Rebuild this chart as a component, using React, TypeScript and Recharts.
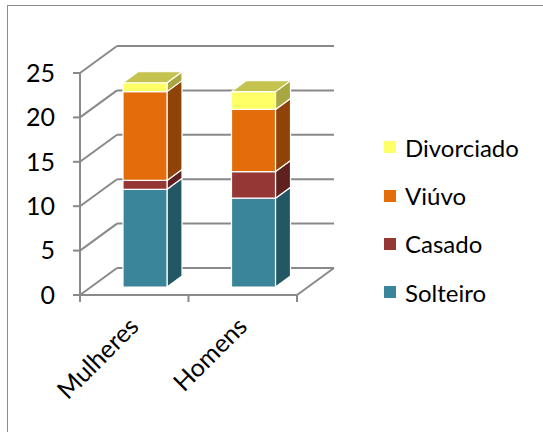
import React from "react";
import { BarChart, Bar, XAxis, YAxis, CartesianGrid, Legend } from "recharts";

// marital status counts per sex
const categories = ["Mulheres", "Homens"];
const solteiro = [11, 10];
const casado = [1, 3];
const viuvo = [10, 7];
const divorciado = [1, 2];
const yTicks = [0, 5, 10, 15, 20, 25];

const series = [
  { key: "Solteiro", values: solteiro, front: "#3A8599", side: "#245764" },
  { key: "Casado", values: casado, front: "#953735", side: "#5E2120" },
  { key: "Viúvo", values: viuvo, front: "#E46C0A", side: "#8F4306" },
  { key: "Divorciado", values: divorciado, front: "#FFFF66", side: "#A9A741", top: "#C5C34F" },
];

const data = categories.map((name, i) => {
  const row: Record<string, string | number> = { name };
  series.forEach((s) => (row[s.key] = s.values[i]));
  return row;
});

const W = 543;
const H = 432;
const X_AXIS_H = 137;
const PLOT_BOTTOM = H - X_AXIS_H;
const GRID = "#898989";
const FONT = "Lato, 'Noto Sans', sans-serif";

// fake 3d: back wall offset, bar placement inside the depth and bar depth
const WALL_DX = 37;
const WALL_DY = -27;
const BAR_DX = 11;
const BAR_DY = -8;
const SIDE_DX = 15;
const SIDE_DY = -11;

const renderGridLine = (props: any) => {
  const { x1, x2, y1, index } = props;
  const bx1 = x1 + WALL_DX;
  const bx2 = x2 + WALL_DX;
  const by = y1 + WALL_DY;
  const isFloor = Math.abs(y1 - PLOT_BOTTOM) < 1;
  const n = categories.length;
  return (
    <g key={`wall-${index}`} stroke={GRID} strokeWidth={2} fill="none">
      <line x1={x1} y1={y1} x2={bx1} y2={by} />
      <line x1={bx1} y1={by} x2={bx2} y2={by} />
      {isFloor && <line x1={x2} y1={y1} x2={bx2} y2={by} />}
      {isFloor &&
        Array.from({ length: n + 1 }, (_, i) => {
          const tx = x1 + ((x2 - x1) * i) / n;
          return <line key={i} x1={tx} y1={y1} x2={tx} y2={y1 + 7} />;
        })}
    </g>
  );
};

const make3DShape = (s: (typeof series)[number]) => (props: any) => {
  const { x, y, width, height } = props;
  if (!height || height <= 0) return <g />;
  const fx = x + BAR_DX;
  const fy = y + BAR_DY;
  const side = `${fx + width},${fy} ${fx + width + SIDE_DX},${fy + SIDE_DY} ${fx + width + SIDE_DX},${fy + height + SIDE_DY} ${fx + width},${fy + height}`;
  const top = `${fx},${fy} ${fx + SIDE_DX},${fy + SIDE_DY} ${fx + width + SIDE_DX},${fy + SIDE_DY} ${fx + width},${fy}`;
  return (
    <g stroke="#ffffff" strokeWidth={1.2} strokeLinejoin="round">
      <polygon points={side} fill={s.side} />
      <rect x={fx} y={fy} width={width} height={height} fill={s.front} />
      {s.top && <polygon points={top} fill={s.top} />}
    </g>
  );
};

const CategoryTick = (props: any) => {
  const { x, y, payload } = props;
  const ax = x + 6;
  const ay = y + 33;
  return (
    <text
      x={ax}
      y={ay}
      transform={`rotate(-45, ${ax}, ${ay})`}
      textAnchor="end"
      fill="#000"
      fontSize={25}
      fontFamily={FONT}
    >
      {payload.value}
    </text>
  );
};

const renderLegend = () => (
  <div style={{ fontFamily: FONT, fontSize: 24, color: "#000" }}>
    {[...series].reverse().map((s) => (
      <div key={s.key} style={{ display: "flex", alignItems: "center", height: 48.4 }}>
        <span style={{ width: 12, height: 12, background: s.front, marginRight: 9 }} />
        <span>{s.key}</span>
      </div>
    ))}
  </div>
);

export default function App() {
  return (
    <div
      style={{
        position: "absolute",
        left: 0,
        top: 0,
        width: W,
        height: H,
        overflow: "hidden",
        background: "#fff",
        fontFamily: FONT,
      }}
    >
      <div
        style={{
          position: "absolute",
          left: 7,
          top: 5,
          width: W + 20,
          height: H + 20,
          border: "1.5px solid #8c8c8c",
        }}
      />
      <BarChart
        width={W}
        height={H}
        data={data}
        margin={{ top: 73, right: 246, bottom: 0, left: 0 }}
        barSize={44}
      >
        <CartesianGrid vertical={false} horizontal={renderGridLine} />
        <XAxis
          dataKey="name"
          height={X_AXIS_H}
          interval={0}
          tickLine={false}
          tickSize={0}
          tickMargin={0}
          axisLine={{ stroke: GRID, strokeWidth: 2 }}
          tick={<CategoryTick />}
        />
        <YAxis
          width={80}
          domain={[0, 25]}
          ticks={yTicks}
          interval={0}
          tickSize={7}
          tickMargin={18}
          axisLine={{ stroke: GRID, strokeWidth: 2 }}
          tickLine={{ stroke: GRID, strokeWidth: 2 }}
          tick={{ fill: "#000", fontSize: 25, fontFamily: FONT }}
        />
        <Legend
          layout="vertical"
          align="center"
          verticalAlign="middle"
          content={renderLegend}
          wrapperStyle={{ left: 384, top: 123, width: 150 }}
        />
        {series.map((s) => (
          <Bar
            key={s.key}
            dataKey={s.key}
            stackId="estado"
            fill={s.front}
            shape={make3DShape(s)}
            isAnimationActive={false}
          />
        ))}
      </BarChart>
    </div>
  );
}
